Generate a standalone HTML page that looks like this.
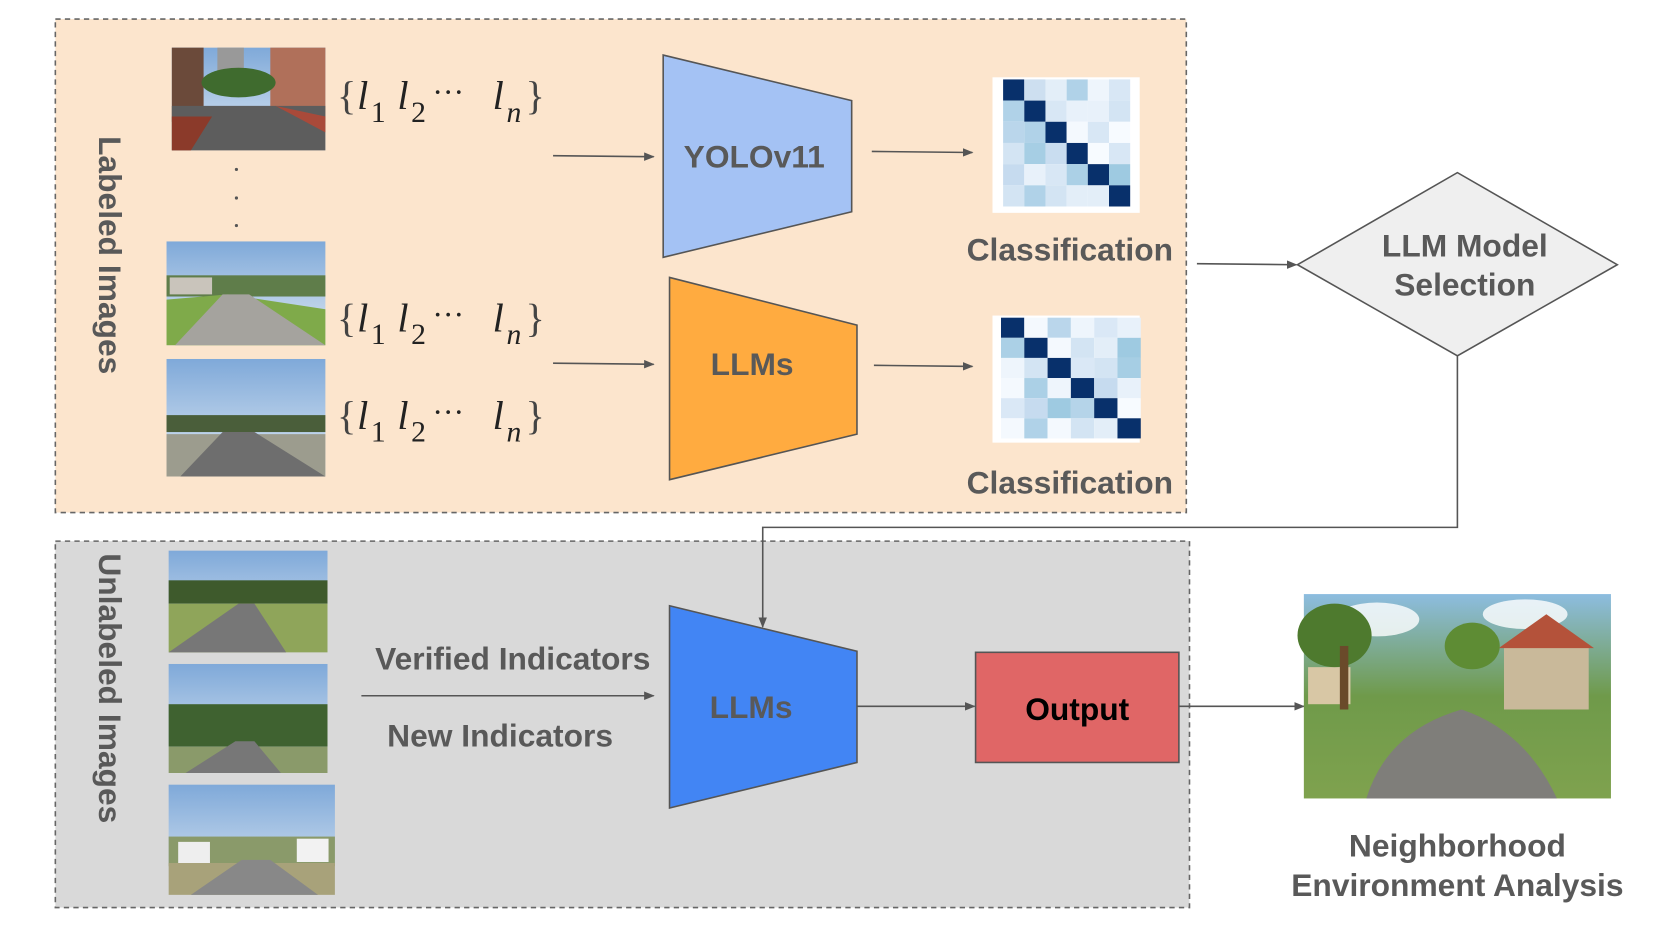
<!DOCTYPE html>
<html><head><meta charset="utf-8"><style>
html,body{margin:0;padding:0;background:#fff;width:1661px;height:934px;overflow:hidden}
svg{display:block}
.t{font-family:"Liberation Sans",Arial,sans-serif;font-weight:bold;fill:#595959}
.m{font-family:"Liberation Serif",serif;fill:#222}
</style></head><body>
<svg width="1661" height="934" viewBox="0 0 1568 882" xmlns="http://www.w3.org/2000/svg">
<defs>
<marker id="ar" markerWidth="10" markerHeight="8" refX="9" refY="4" orient="auto" markerUnits="userSpaceOnUse"><path d="M0,0 L10,4 L0,8 Z" fill="#555"/></marker>
<linearGradient id="sky" x1="0" y1="0" x2="0" y2="1"><stop offset="0" stop-color="#7fa9d9"/><stop offset="1" stop-color="#dfe9f3"/></linearGradient>
<linearGradient id="nb" x1="0" y1="0" x2="0" y2="1"><stop offset="0" stop-color="#8dbde0"/><stop offset="0.5" stop-color="#6f9a4a"/><stop offset="1" stop-color="#7fa24e"/></linearGradient>
<g id="fm" class="m">
<text x="0" y="0" font-size="38" fill="#444">{</text>
<text x="19" y="0" font-size="38" font-style="italic">l</text>
<text x="32" y="12" font-size="28">1</text>
<text x="57" y="0" font-size="38" font-style="italic">l</text>
<text x="70" y="12" font-size="28">2</text>
<text x="90" y="-6" font-size="30">···</text>
<text x="147" y="0" font-size="38" font-style="italic">l</text>
<text x="160" y="12" font-size="28" font-style="italic">n</text>
<text x="178" y="0" font-size="38" fill="#444">}</text>
</g>
</defs>
<rect x="52" y="18" width="1068" height="466" fill="#fce5cd" stroke="#666" stroke-width="1.5" stroke-dasharray="5,4"/>
<rect x="52" y="511" width="1071" height="346" fill="#d9d9d9" stroke="#666" stroke-width="1.5" stroke-dasharray="5,4"/>
<text class="t" transform="translate(93,241) rotate(90)" text-anchor="middle" font-size="30">Labeled Images</text>
<text class="t" transform="translate(93,650) rotate(90)" text-anchor="middle" font-size="30">Unlabeled Images</text>

<g>
<rect x="162" y="45" width="145" height="97" fill="url(#sky)"/>
<rect x="162" y="45" width="30" height="70" fill="#6b4a3a"/><rect x="255" y="45" width="52" height="70" fill="#b0705a"/><rect x="205" y="45" width="25" height="30" fill="#999"/>
<ellipse cx="225" cy="78" rx="35" ry="14" fill="#3f6b2e"/>
<polygon points="162,142 162,100 307,100 307,142" fill="#5d5d5d"/><polygon points="162,142 162,110 200,110 180,142" fill="#8b3a2a"/><polygon points="260,100 307,110 307,125" fill="#a94a3a"/>
</g>
<circle cx="223" cy="160" r="1.5" fill="#555"/><circle cx="223" cy="187" r="1.5" fill="#555"/><circle cx="223" cy="213" r="1.5" fill="#555"/>
<g>
<rect x="157" y="228" width="150" height="98" fill="url(#sky)"/>
<rect x="157" y="260" width="150" height="20" fill="#5f7d4a"/><rect x="160" y="262" width="40" height="16" fill="#c9c4bb"/>
<polygon points="157,326 157,283 215,278 307,292 307,326" fill="#7faa4a"/><polygon points="165,326 210,278 235,278 307,326" fill="#a5a39e"/>
</g>
<g>
<rect x="157" y="339" width="150" height="111" fill="url(#sky)"/>
<rect x="157" y="392" width="150" height="16" fill="#4a5e3a"/>
<polygon points="157,450 157,410 307,410 307,450" fill="#9c9c8e"/><polygon points="170,450 210,408 240,408 307,450" fill="#6e6e6e"/>
</g>
<use href="#fm" x="318" y="103"/>
<use href="#fm" x="318" y="313"/>
<use href="#fm" x="318" y="405"/>
<g stroke="#555" stroke-width="1.5" fill="none" marker-end="url(#ar)">
<line x1="522" y1="147" x2="617" y2="148"/>
<line x1="522" y1="343" x2="617" y2="344"/>
<line x1="823" y1="143" x2="918" y2="144"/>
<line x1="825" y1="345" x2="918" y2="346"/>
<line x1="1130" y1="249" x2="1224" y2="250"/>
<polyline points="1376,336 1376,498 720,498 720,592"/>
<line x1="341" y1="657" x2="617" y2="657"/>
<line x1="809" y1="667" x2="920" y2="667"/>
<line x1="1113" y1="667" x2="1231" y2="667"/>
</g>
<polygon points="626,52 804,95 804,200 626,243" fill="#a4c2f4" stroke="#555" stroke-width="1.5"/>
<text class="t" x="712" y="158" text-anchor="middle" font-size="30">YOLOv11</text>
<polygon points="632,262 809,307 809,410 632,453" fill="#ffab40" stroke="#555" stroke-width="1.5"/>
<text class="t" x="710" y="354" text-anchor="middle" font-size="30">LLMs</text>
<polygon points="632,572 809,615 809,720 632,763" fill="#4285f4" stroke="#555" stroke-width="1.5"/>
<text class="t" x="709" y="678" text-anchor="middle" font-size="30">LLMs</text>
<rect x="937" y="73" width="139" height="128" fill="#fff"/>
<g transform="translate(947,75)">
<rect x="0" y="0" width="20" height="20" fill="#08306b"/><rect x="20" y="0" width="20" height="20" fill="#cddff0"/><rect x="40" y="0" width="20" height="20" fill="#e3eef8"/><rect x="60" y="0" width="20" height="20" fill="#b0d2e8"/><rect x="80" y="0" width="20" height="20" fill="#eef5fc"/><rect x="100" y="0" width="20" height="20" fill="#d8e7f5"/>
<rect x="0" y="20" width="20" height="20" fill="#b0d2e8"/><rect x="20" y="20" width="20" height="20" fill="#08306b"/><rect x="40" y="20" width="20" height="20" fill="#d8e7f5"/><rect x="60" y="20" width="20" height="20" fill="#e8f1fa"/><rect x="80" y="20" width="20" height="20" fill="#e8f1fa"/><rect x="100" y="20" width="20" height="20" fill="#d3e4f3"/>
<rect x="0" y="40" width="20" height="20" fill="#bad6eb"/><rect x="20" y="40" width="20" height="20" fill="#b0d2e8"/><rect x="40" y="40" width="20" height="20" fill="#08306b"/><rect x="60" y="40" width="20" height="20" fill="#f4f9fe"/><rect x="80" y="40" width="20" height="20" fill="#d8e7f5"/><rect x="100" y="40" width="20" height="20" fill="#f7fbff"/>
<rect x="0" y="60" width="20" height="20" fill="#d3e4f3"/><rect x="20" y="60" width="20" height="20" fill="#a6cee4"/><rect x="40" y="60" width="20" height="20" fill="#c9ddf0"/><rect x="60" y="60" width="20" height="20" fill="#08306b"/><rect x="80" y="60" width="20" height="20" fill="#f7fbff"/><rect x="100" y="60" width="20" height="20" fill="#d8e7f5"/>
<rect x="0" y="80" width="20" height="20" fill="#c6dbef"/><rect x="20" y="80" width="20" height="20" fill="#e8f1fa"/><rect x="40" y="80" width="20" height="20" fill="#d8e7f5"/><rect x="60" y="80" width="20" height="20" fill="#abd0e6"/><rect x="80" y="80" width="20" height="20" fill="#08306b"/><rect x="100" y="80" width="20" height="20" fill="#9ecae1"/>
<rect x="0" y="100" width="20" height="20" fill="#d3e4f3"/><rect x="20" y="100" width="20" height="20" fill="#b0d2e8"/><rect x="40" y="100" width="20" height="20" fill="#d3e4f3"/><rect x="60" y="100" width="20" height="20" fill="#e3eef8"/><rect x="80" y="100" width="20" height="20" fill="#e3eef8"/><rect x="100" y="100" width="20" height="20" fill="#08306b"/>
</g>
<rect x="937" y="298" width="139" height="120" fill="#fff"/>
<g transform="translate(945,300) scale(1,0.95)">
<rect x="0" y="0" width="22" height="20" fill="#08306b"/><rect x="22" y="0" width="22" height="20" fill="#f4f9fe"/><rect x="44" y="0" width="22" height="20" fill="#bad6eb"/><rect x="66" y="0" width="22" height="20" fill="#eef5fc"/><rect x="88" y="0" width="22" height="20" fill="#dae8f6"/><rect x="110" y="0" width="22" height="20" fill="#e8f1fa"/>
<rect x="0" y="20" width="22" height="20" fill="#abd0e6"/><rect x="22" y="20" width="22" height="20" fill="#08306b"/><rect x="44" y="20" width="22" height="20" fill="#f4f9fe"/><rect x="66" y="20" width="22" height="20" fill="#d3e4f3"/><rect x="88" y="20" width="22" height="20" fill="#e3eef8"/><rect x="110" y="20" width="22" height="20" fill="#9ecae1"/>
<rect x="0" y="40" width="22" height="20" fill="#eef5fc"/><rect x="22" y="40" width="22" height="20" fill="#d3e4f3"/><rect x="44" y="40" width="22" height="20" fill="#08306b"/><rect x="66" y="40" width="22" height="20" fill="#dae8f6"/><rect x="88" y="40" width="22" height="20" fill="#d3e4f3"/><rect x="110" y="40" width="22" height="20" fill="#a6cee4"/>
<rect x="0" y="60" width="22" height="20" fill="#f4f9fe"/><rect x="22" y="60" width="22" height="20" fill="#abd0e6"/><rect x="44" y="60" width="22" height="20" fill="#eef5fc"/><rect x="66" y="60" width="22" height="20" fill="#08306b"/><rect x="88" y="60" width="22" height="20" fill="#c6dbef"/><rect x="110" y="60" width="22" height="20" fill="#e8f1fa"/>
<rect x="0" y="80" width="22" height="20" fill="#dae8f6"/><rect x="22" y="80" width="22" height="20" fill="#c6dbef"/><rect x="44" y="80" width="22" height="20" fill="#9ecae1"/><rect x="66" y="80" width="22" height="20" fill="#b5d4e9"/><rect x="88" y="80" width="22" height="20" fill="#08306b"/><rect x="110" y="80" width="22" height="20" fill="#f7fbff"/>
<rect x="0" y="100" width="22" height="20" fill="#f4f9fe"/><rect x="22" y="100" width="22" height="20" fill="#b0d2e8"/><rect x="44" y="100" width="22" height="20" fill="#f4f9fe"/><rect x="66" y="100" width="22" height="20" fill="#d3e4f3"/><rect x="88" y="100" width="22" height="20" fill="#e3eef8"/><rect x="110" y="100" width="22" height="20" fill="#08306b"/>
</g>
<text class="t" x="1010" y="246" text-anchor="middle" font-size="30">Classification</text>
<text class="t" x="1010" y="466" text-anchor="middle" font-size="30">Classification</text>
<polygon points="1225,250 1376,163 1527,250 1376,336" fill="#efefef" stroke="#555" stroke-width="1.5"/>
<text class="t" x="1383" y="242" text-anchor="middle" font-size="30">LLM Model</text>
<text class="t" x="1383" y="279" text-anchor="middle" font-size="30">Selection</text>
<g>
<rect x="159" y="520" width="150" height="96" fill="url(#sky)"/>
<rect x="159" y="548" width="150" height="22" fill="#3e5a2c"/>
<polygon points="159,616 159,570 309,570 309,616" fill="#8fa55a"/><polygon points="159,616 225,570 240,570 270,616" fill="#777"/>
</g>
<g>
<rect x="159" y="627" width="150" height="103" fill="url(#sky)"/>
<rect x="159" y="665" width="150" height="40" fill="#3f6230"/>
<polygon points="159,730 159,705 309,705 309,730" fill="#8a9a6a"/><polygon points="175,730 222,700 240,700 265,730" fill="#777"/>
</g>
<g>
<rect x="159" y="741" width="157" height="104" fill="url(#sky)"/>
<rect x="159" y="790" width="157" height="28" fill="#8a9a6a"/><rect x="168" y="795" width="30" height="20" fill="#eee"/><rect x="280" y="792" width="30" height="22" fill="#f2f2f2"/>
<polygon points="159,845 159,815 316,815 316,845" fill="#a8a27a"/><polygon points="180,845 228,812 255,812 300,845" fill="#888"/>
</g>
<text class="t" x="484" y="632" text-anchor="middle" font-size="30">Verified Indicators</text>
<text class="t" x="472" y="705" text-anchor="middle" font-size="30">New Indicators</text>
<rect x="921" y="616" width="192" height="104" fill="#e06666" stroke="#555" stroke-width="1.5"/>
<text x="1017" y="680" text-anchor="middle" font-size="30" font-weight="bold" font-family="Liberation Sans,Arial,sans-serif" fill="#000">Output</text>
<g>
<rect x="1231" y="561" width="290" height="193" fill="url(#nb)"/>
<ellipse cx="1300" cy="585" rx="40" ry="16" fill="#fff" opacity="0.8"/><ellipse cx="1440" cy="580" rx="40" ry="14" fill="#fff" opacity="0.8"/>
<rect x="1420" y="610" width="80" height="60" fill="#c9b99a"/><polygon points="1415,612 1460,580 1505,612" fill="#b4523a"/>
<rect x="1235" y="630" width="40" height="35" fill="#d8c7a5"/>
<ellipse cx="1260" cy="600" rx="35" ry="30" fill="#4e7a2e"/><rect x="1265" y="610" width="8" height="60" fill="#6a4a2a"/>
<ellipse cx="1390" cy="610" rx="26" ry="22" fill="#5e8c34"/>
<path d="M1290,754 Q1310,690 1380,670 Q1440,690 1470,754 Z" fill="#7f7e7a"/>
</g>
<text class="t" x="1376" y="809" text-anchor="middle" font-size="30">Neighborhood</text>
<text class="t" x="1376" y="846" text-anchor="middle" font-size="30">Environment Analysis</text>
</svg>
</body></html>
